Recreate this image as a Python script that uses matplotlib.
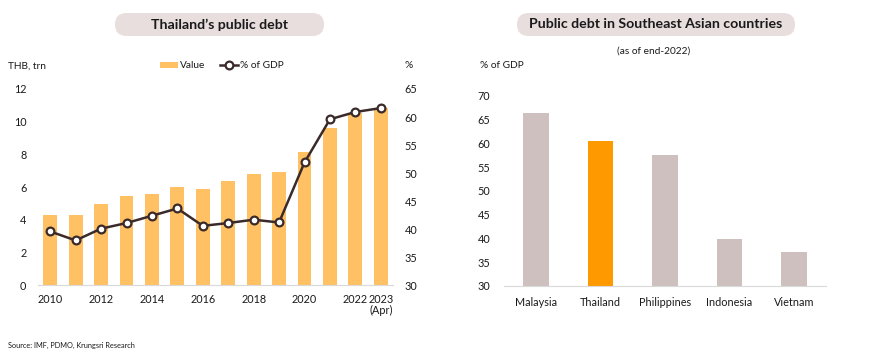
import matplotlib
matplotlib.use("Agg")
import matplotlib.pyplot as plt
from matplotlib.patches import FancyBboxPatch
from matplotlib.lines import Line2D
from matplotlib.patches import Patch

plt.rcParams['font.family'] = ['Lato', 'DejaVu Sans']

# ---- data ----
years = ["2010", "2011", "2012", "2013", "2014", "2015", "2016", "2017",
         "2018", "2019", "2020", "2021", "2022", "2023\n(Apr)"]
debt_value = [4.28, 4.30, 4.95, 5.44, 5.60, 5.99, 5.89, 6.36, 6.80, 6.93,
              8.13, 9.62, 10.55, 10.86]
debt_pct_gdp = [39.6, 38.0, 40.1, 41.1, 42.4, 43.7, 40.6, 41.1, 41.7, 41.2,
                51.9, 59.6, 60.9, 61.6]
year_tick_labels = ["2010", "", "2012", "", "2014", "", "2016", "", "2018", "",
                    "2020", "", "2022", "2023\n(Apr)"]

countries = ["Malaysia", "Thailand", "Philippines", "Indonesia", "Vietnam"]
country_debt = [66.3, 60.5, 57.5, 39.8, 37.1]

# ---- style ----
W, H = 870, 364
bar_orange = "#FFC164"
line_dark = "#3B2A2A"
grey_bar = "#CDC0BE"
thai_orange = "#FF9900"
box_fill = "#E7DEDD"
txt = "#1A1A1A"
fs = 7.8      # tick labels
fa = 7.3      # annotations

fig = plt.figure(figsize=(W / 100, H / 100), dpi=100)

def px_axes(x0, y_top, x1, y_bot):
    return fig.add_axes([x0 / W, 1 - y_bot / H, (x1 - x0) / W, (y_bot - y_top) / H])

# ---- left chart ----
ax = px_axes(37.5, 89, 393.5, 285.3)
x = list(range(len(years)))
ax.bar(x, debt_value, width=0.54, color=bar_orange, zorder=2)
ax.set_xlim(-0.5, len(years) - 0.5)
ax.set_ylim(0, 12)
ax.set_yticks(range(0, 13, 2))
ax.set_xticks(x)
ax.set_xticklabels(year_tick_labels, fontsize=fs, color=txt, linespacing=1.0)
ax.tick_params(axis='both', length=0, labelsize=fs, colors=txt)
ax.tick_params(axis='y', pad=8)
ax.tick_params(axis='x', pad=6)
for s in ["top", "left", "right"]:
    ax.spines[s].set_visible(False)
ax.spines["bottom"].set_color("#D9D9D9")

ax2 = ax.twinx()
ax2.plot(x, debt_pct_gdp, color=line_dark, lw=1.8, marker="o", markersize=5.6,
         markerfacecolor="white", markeredgecolor=line_dark, markeredgewidth=1.6,
         zorder=3)
ax2.set_ylim(30, 65)
ax2.set_yticks(range(30, 66, 5))
ax2.tick_params(axis='y', length=0, labelsize=fs, colors=txt, pad=8)
for s in ["top", "left", "right", "bottom"]:
    ax2.spines[s].set_visible(False)

fig.text(8 / W, 1 - 66 / H, "THB, trn", fontsize=fa, color=txt, va="center", ha="left")
fig.text(405 / W, 1 - 66 / H, "%", fontsize=fa, color=txt, va="center", ha="left")

handles = [Patch(facecolor=bar_orange, edgecolor="none"),
           Line2D([0], [0], color=line_dark, lw=1.8, marker="o", markersize=5.6,
                  markerfacecolor="white", markeredgecolor=line_dark, markeredgewidth=1.6)]
fig.legend(handles, ["Value", "% of GDP"], loc="center", bbox_to_anchor=(222 / W, 1 - 66 / H),
           ncol=2, frameon=False, fontsize=fa, handlelength=1.8, handletextpad=0.2,
           columnspacing=1.4, handleheight=0.5, labelcolor=txt)

# ---- right chart ----
bx = px_axes(504, 95.7, 826, 286)
cx = list(range(len(countries)))
colors = [thai_orange if c == "Thailand" else grey_bar for c in countries]
bx.bar(cx, country_debt, width=0.4, color=colors, zorder=2)
bx.set_xlim(-0.5, len(countries) - 0.5)
bx.set_ylim(30, 70)
bx.set_yticks(range(30, 71, 5))
bx.set_xticks(cx)
bx.set_xticklabels(countries)
bx.tick_params(axis='both', length=0, labelsize=fs, colors=txt)
bx.tick_params(axis='y', pad=10)
bx.tick_params(axis='x', pad=8)
for s in ["top", "left", "right"]:
    bx.spines[s].set_visible(False)
bx.spines["bottom"].set_color("#D9D9D9")

fig.text(480 / W, 1 - 66 / H, "% of GDP", fontsize=fa, color=txt, va="center", ha="left")
fig.text(654 / W, 1 - 51 / H, "(as of end-2022)", fontsize=fa, color=txt, va="center", ha="center")

# ---- title boxes ----
def title_box(x0, x1, y_top, y_bot, label):
    h = (y_bot - y_top) / 100
    box = FancyBboxPatch((x0 / 100 + h / 2, (H - y_bot) / 100 + h / 2), (x1 - x0) / 100 - h, 0,
                         boxstyle=f"round,pad={h/2},rounding_size={h/2}",
                         transform=fig.dpi_scale_trans, facecolor=box_fill,
                         edgecolor="none")
    fig.add_artist(box)
    fig.text((x0 + x1) / 2 / W, 1 - (y_top + y_bot) / 2 / H, label, fontsize=10.2,
             fontweight="bold", color=txt, ha="center", va="center")

title_box(115, 324, 13, 36, "Thailand\u2019s public debt")
title_box(517, 795, 13, 36, "Public debt in Southeast Asian countries")

fig.text(8 / W, 1 - 345 / H, "Source: IMF, PDMO, Krungsri Research", fontsize=5.3,
         color=txt, va="center", ha="left")

fig.savefig("out.png", dpi=100, facecolor="white")
